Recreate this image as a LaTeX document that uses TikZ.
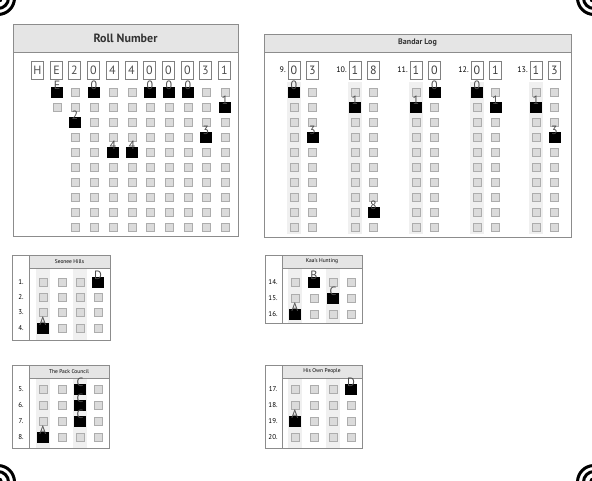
\documentclass[tikz,border=0pt]{standalone}
\usepackage{fontspec}
\setmainfont{PT Sans}
\def\omrbox(#1,#2){\draw[line width=0.5pt, color=black!32, fill=black!14] (#1-4,#2-4) rectangle (#1+4,#2+4);}
\def\omrfill(#1,#2)#3{\fill[black] (#1-6,#2-5.5) rectangle (#1+6,#2+6);
	\node[anchor=south, inner sep=0pt, color=black!70, font=\fontsize{12}{12}\selectfont] at (#1,#2-2) {#3};}
\def\target(#1,#2){\fill[black] (#1,#2) circle (5); \draw[line width=3pt] (#1,#2) circle (10.5); \draw[line width=3pt] (#1,#2) circle (16.5);}

\begin{document}
\begin{tikzpicture}[x=1pt, y=-1pt]
			%%%%% START %%%%%
			\useasboundingbox (0,0) rectangle (592,480);
			
			\target(-2,-2) \target(594,-2) \target(-2,482) \target(594,482)
			
			% roll number
			\draw[line width=0.8pt, color=black!45] (13,24) rectangle (238,236);
			\draw[line width=0.8pt, color=black!45, fill=black!10] (13,24) rectangle (238,52);
			\node[font=\bfseries\fontsize{12}{12}\selectfont, color=black!80] (rollhead) at (125.5,38) {Roll Number};
			\foreach \x/\d in {38/H, 57/E, 75/2, 94/0, 113/4, 132/4, 150/0, 169/0, 188/0, 206/3, 225/1}
			{\draw[line width=0.6pt, color=black!50] (\x-6.5,61) rectangle (\x+5.5,79);
			 \node[font=\fontsize{12}{12}\selectfont, color=black!70] at (\x-0.5,70) {\d};}
			\omrbox(57,92) \omrbox(57,107)
			\foreach \x in {75,94,113,132,150,169,188,206,225}
			\foreach \y in {92,107,...,227} {\omrbox(\x,\y)}
			
			\omrfill(57,92){E}
			\omrfill(75,122){2}
			\omrfill(94,92){0}
			\omrfill(113,152){4}
			\omrfill(132,152){4}
			\omrfill(150,92){0}
			\omrfill(169,92){0}
			\omrfill(188,92){0}
			\omrfill(206,137){3}
			\omrfill(225,107){1}
			
			% bandar log
			\draw[line width=0.8pt, color=black!45] (264,34) rectangle (571,237);
			\draw[line width=0.8pt, color=black!45, fill=black!10] (264,34) rectangle (571,52);
			\node[font=\bfseries\fontsize{8}{8}\selectfont, color=black!80] (bandarhead) at (417.5,43) {Bandar Log};
			\foreach \x in {294,355,416,477,536} \fill[black!6] (\x-7,82) rectangle (\x+7,234);
			\foreach \x/\q/\a/\b in {294/9/0/3, 355/10/1/8, 416/11/1/0, 477/12/0/1, 536/13/1/3}
			{\node[font=\fontsize{8}{8}\selectfont, anchor=east, inner sep=0pt] at (\x-8,70) {\q.};
			 \draw[line width=0.6pt, color=black!50] (\x-6,61) rectangle (\x+6,79);
			 \draw[line width=0.6pt, color=black!50] (\x+12.5,61) rectangle (\x+24.5,79);
			 \node[font=\fontsize{12}{12}\selectfont, color=black!75] at (\x,70) {\a};
			 \node[font=\fontsize{12}{12}\selectfont, color=black!75] at (\x+18.5,70) {\b};}
			\foreach \x in {294,312.5,355,373.5,416,434.5,477,495.5,536,554.5}
			\foreach \y in {92,107,...,227} {\omrbox(\x,\y)}
			
			\omrfill(294,92){0}
			\omrfill(312.5,137){3}
			\omrfill(355,107){1}
			\omrfill(373.5,212){8}
			\omrfill(416,107){1}
			\omrfill(434.5,92){0}
			\omrfill(477,92){0}
			\omrfill(495.5,107){1}
			\omrfill(536,107){1}
			\omrfill(554.5,137){3}
			
			% seonee hills
			\draw[line width=0.8pt, color=black!45] (12,255) rectangle (110,340);
			\draw[line width=0.8pt, color=black!45] (29,255) -- (29,340);
			\fill[black!6] (36,268) rectangle (50,340);
			\fill[black!6] (73,268) rectangle (87,340);
			\draw[line width=0.8pt, color=black!45, fill=black!10] (29,255) rectangle (110,268);
			\node[font=\fontsize{5.5}{5.5}\selectfont] (seoneehead) at (69.5,261.5) {Seonee Hills};
			\foreach \r/\y in {1/282, 2/297, 3/312, 4/328}
			{\node[font=\fontsize{7}{7}\selectfont] at (21,\y) {\r.};
			 \foreach \x in {43,62,80,98} {\omrbox(\x,\y)}}
			\omrfill(98,282){D}
			\omrfill(43,328){A}
			
			% kaa's hunting
			\draw[line width=0.8pt, color=black!45] (265,255) rectangle (362,323);
			\draw[line width=0.8pt, color=black!45] (282,255) -- (282,323);
			\fill[black!6] (288,268) rectangle (302,323);
			\fill[black!6] (326,268) rectangle (340,323);
			\draw[line width=0.8pt, color=black!45, fill=black!10] (282,255) rectangle (362,268);
			\node[font=\fontsize{5.5}{5.5}\selectfont] (kaahead) at (322,261.5) {Kaa's Hunting};
			\foreach \r/\y in {14/282, 15/298, 16/314}
			{\node[font=\fontsize{7}{7}\selectfont] at (273,\y) {\r.};
			 \foreach \x in {295,314,333,351} {\omrbox(\x,\y)}}
			\omrfill(314,282){B}
			\omrfill(333,298){C}
			\omrfill(295,314){A}
			
			% the pack council
			\draw[line width=0.8pt, color=black!45] (12,365) rectangle (109,448);
			\draw[line width=0.8pt, color=black!45] (29,365) -- (29,448);
			\fill[black!6] (36,378) rectangle (50,448);
			\fill[black!6] (73,378) rectangle (87,448);
			\draw[line width=0.8pt, color=black!45, fill=black!10] (29,365) rectangle (109,378);
			\node[font=\fontsize{5.5}{5.5}\selectfont] (packhead) at (69,371.5) {The Pack Council};
			\foreach \r/\y in {5/389, 6/405, 7/421, 8/437}
			{\node[font=\fontsize{7}{7}\selectfont] at (21,\y) {\r.};
			 \foreach \x in {43,62,80,98} {\omrbox(\x,\y)}}
			\omrfill(80,389){C}
			\omrfill(80,405){C}
			\omrfill(80,421){C}
			\omrfill(43,437){A}
			
			% his own people
			\draw[line width=0.8pt, color=black!45] (265,365) rectangle (362,448);
			\draw[line width=0.8pt, color=black!45] (282,365) -- (282,448);
			\fill[black!6] (288,378) rectangle (302,448);
			\fill[black!6] (326,378) rectangle (340,448);
			\draw[line width=0.8pt, color=black!45, fill=black!10] (282,365) rectangle (362,378);
			\node[font=\fontsize{5.5}{5.5}\selectfont] (peoplehead) at (322,371.5) {His Own People};
			\foreach \r/\y in {17/389, 18/405, 19/421, 20/437}
			{\node[font=\fontsize{7}{7}\selectfont] at (273,\y) {\r.};
			 \foreach \x in {295,314,333,351} {\omrbox(\x,\y)}}
			\omrfill(351,389){D}
			\omrfill(295,421){A}
			
			%%%%% END %%%%%
		\end{tikzpicture}
\end{document}
